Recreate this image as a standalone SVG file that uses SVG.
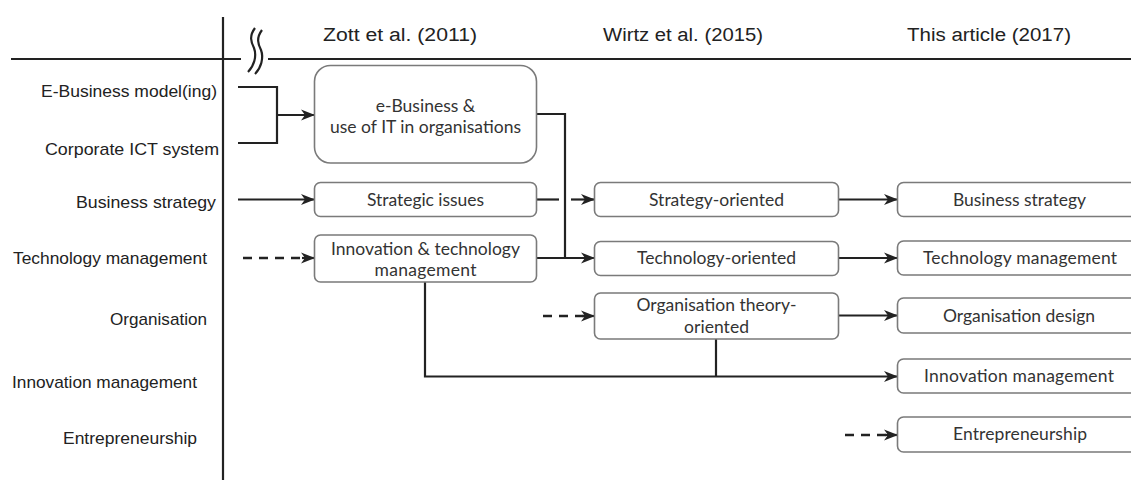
<svg xmlns="http://www.w3.org/2000/svg" width="1131" height="480" viewBox="0 0 1131 480">
<style>
.hdr{font-family:"Liberation Sans",Arial,sans-serif;font-size:18px;fill:#222}
.lbl{font-family:"Liberation Sans",Arial,sans-serif;font-size:17px;fill:#222}
.box{fill:#fff;stroke:#7a7a7a;stroke-width:1.6}
.bt{font-family:Lato,"Open Sans",sans-serif;font-size:17.5px;fill:#333;text-anchor:middle}
.axis{stroke:#222;stroke-width:2.2;fill:none}
.c{stroke:#222;stroke-width:2.2;fill:none}
.d{stroke:#222;stroke-width:2.6;fill:none;stroke-dasharray:9 7}
</style>
<defs>
<marker id="ah" viewBox="0 0 14 12" refX="13" refY="6" markerWidth="14" markerHeight="12" markerUnits="userSpaceOnUse" orient="auto">
<path d="M0,0.5 L14,6 L0,11.5 L4,6 z" fill="#222"/>
</marker>
</defs>

<g id="axes">
<line class="axis" x1="223" y1="17" x2="223" y2="480"/>
<line class="axis" x1="11" y1="59" x2="241" y2="59"/>
<line class="axis" x1="268" y1="59" x2="1131" y2="59"/>
<path class="c" stroke-width="2" d="M255,28 C249,36 251,42 254,48 C257,56 254,66 248,72"/>
<path class="c" stroke-width="2" d="M262,30 C256,38 258,44 261,50 C264,58 261,68 255,74"/>
</g>

<g id="headers">
<text class="hdr" x="323" y="41" textLength="154" lengthAdjust="spacingAndGlyphs">Zott et al. (2011)</text>
<text class="hdr" x="603" y="41" textLength="160" lengthAdjust="spacingAndGlyphs">Wirtz et al. (2015)</text>
<text class="hdr" x="907" y="41" textLength="164" lengthAdjust="spacingAndGlyphs">This article (2017)</text>
</g>

<g id="row-labels">
<text class="lbl" x="41" y="97" textLength="176" lengthAdjust="spacingAndGlyphs">E-Business model(ing)</text>
<text class="lbl" x="45" y="155" textLength="174" lengthAdjust="spacingAndGlyphs">Corporate ICT system</text>
<text class="lbl" x="76" y="208" textLength="140" lengthAdjust="spacingAndGlyphs">Business strategy</text>
<text class="lbl" x="13" y="264" textLength="194" lengthAdjust="spacingAndGlyphs">Technology management</text>
<text class="lbl" x="110" y="325" textLength="97" lengthAdjust="spacingAndGlyphs">Organisation</text>
<text class="lbl" x="12" y="388" textLength="185" lengthAdjust="spacingAndGlyphs">Innovation management</text>
<text class="lbl" x="63" y="444" textLength="134" lengthAdjust="spacingAndGlyphs">Entrepreneurship</text>
</g>

<g id="connectors">
<polyline class="c" points="238,87 277,87 277,143 238,143"/>
<line class="c" x1="277" y1="115" x2="314" y2="115" marker-end="url(#ah)"/>
<line class="c" x1="238" y1="199.5" x2="314" y2="199.5" marker-end="url(#ah)"/>
<line class="d" x1="243" y1="258" x2="310" y2="258"/>
<line class="c" x1="302" y1="258" x2="314" y2="258" marker-end="url(#ah)"/>
<polyline class="c" points="537,114 565,114 565,258"/>
<line class="c" x1="537" y1="199.5" x2="559" y2="199.5"/>
<line class="c" x1="571" y1="199.5" x2="594" y2="199.5" marker-end="url(#ah)"/>
<line class="c" x1="537" y1="258" x2="594" y2="258" marker-end="url(#ah)"/>
<line class="d" x1="543" y1="316" x2="590" y2="316"/>
<line class="c" x1="582" y1="316" x2="594" y2="316" marker-end="url(#ah)"/>
<polyline class="c" points="425,282 425,376.5 897,376.5" marker-end="url(#ah)"/>
<line class="c" x1="716" y1="339" x2="716" y2="376.5"/>
<line class="c" x1="839" y1="199.5" x2="897" y2="199.5" marker-end="url(#ah)"/>
<line class="c" x1="839" y1="258" x2="897" y2="258" marker-end="url(#ah)"/>
<line class="c" x1="839" y1="315.5" x2="897" y2="315.5" marker-end="url(#ah)"/>
<line class="d" x1="845" y1="435" x2="893" y2="435"/>
<line class="c" x1="885" y1="435" x2="897" y2="435" marker-end="url(#ah)"/>
</g>

<g id="n-ebusiness">
<rect class="box" x="314.5" y="65.5" width="222" height="97.5" rx="16"/>
<text class="bt" x="425.5" y="112">e-Business &amp;</text>
<text class="bt" x="425.5" y="133" textLength="191">use of IT in organisations</text>
</g>
<g id="n-strategic">
<rect class="box" x="314.5" y="182.5" width="222" height="34" rx="6"/>
<text class="bt" x="425.5" y="206" textLength="117">Strategic issues</text>
</g>
<g id="n-innovtech">
<rect class="box" x="314.5" y="235" width="222" height="47" rx="6"/>
<text class="bt" x="425.5" y="255" textLength="189">Innovation &amp; technology</text>
<text class="bt" x="425.5" y="276" textLength="102">management</text>
</g>
<g id="n-strategy-oriented">
<rect class="box" x="594.5" y="182.5" width="244" height="34" rx="6"/>
<text class="bt" x="716.5" y="206" textLength="135">Strategy-oriented</text>
</g>
<g id="n-tech-oriented">
<rect class="box" x="594.5" y="241.5" width="244" height="34" rx="6"/>
<text class="bt" x="716.5" y="264" textLength="159">Technology-oriented</text>
</g>
<g id="n-org-theory">
<rect class="box" x="594.5" y="293" width="244" height="46" rx="6"/>
<text class="bt" x="716.5" y="311" textLength="160">Organisation theory-</text>
<text class="bt" x="716.5" y="333" textLength="65">oriented</text>
</g>
<g id="n-business-strategy">
<rect class="box" x="897.5" y="182.5" width="250" height="34" rx="6"/>
<text class="bt" x="1019.5" y="206" textLength="133">Business strategy</text>
</g>
<g id="n-tech-mgmt">
<rect class="box" x="897.5" y="241" width="250" height="34" rx="6"/>
<text class="bt" x="1020" y="264" textLength="194">Technology management</text>
</g>
<g id="n-org-design">
<rect class="box" x="897.5" y="298" width="250" height="35" rx="6"/>
<text class="bt" x="1019" y="322" textLength="152">Organisation design</text>
</g>
<g id="n-innov-mgmt">
<rect class="box" x="897.5" y="359" width="250" height="34" rx="6"/>
<text class="bt" x="1019" y="382" textLength="190">Innovation management</text>
</g>
<g id="n-entrepreneurship">
<rect class="box" x="897.5" y="417" width="250" height="35" rx="6"/>
<text class="bt" x="1020" y="440" textLength="134">Entrepreneurship</text>
</g>
</svg>
